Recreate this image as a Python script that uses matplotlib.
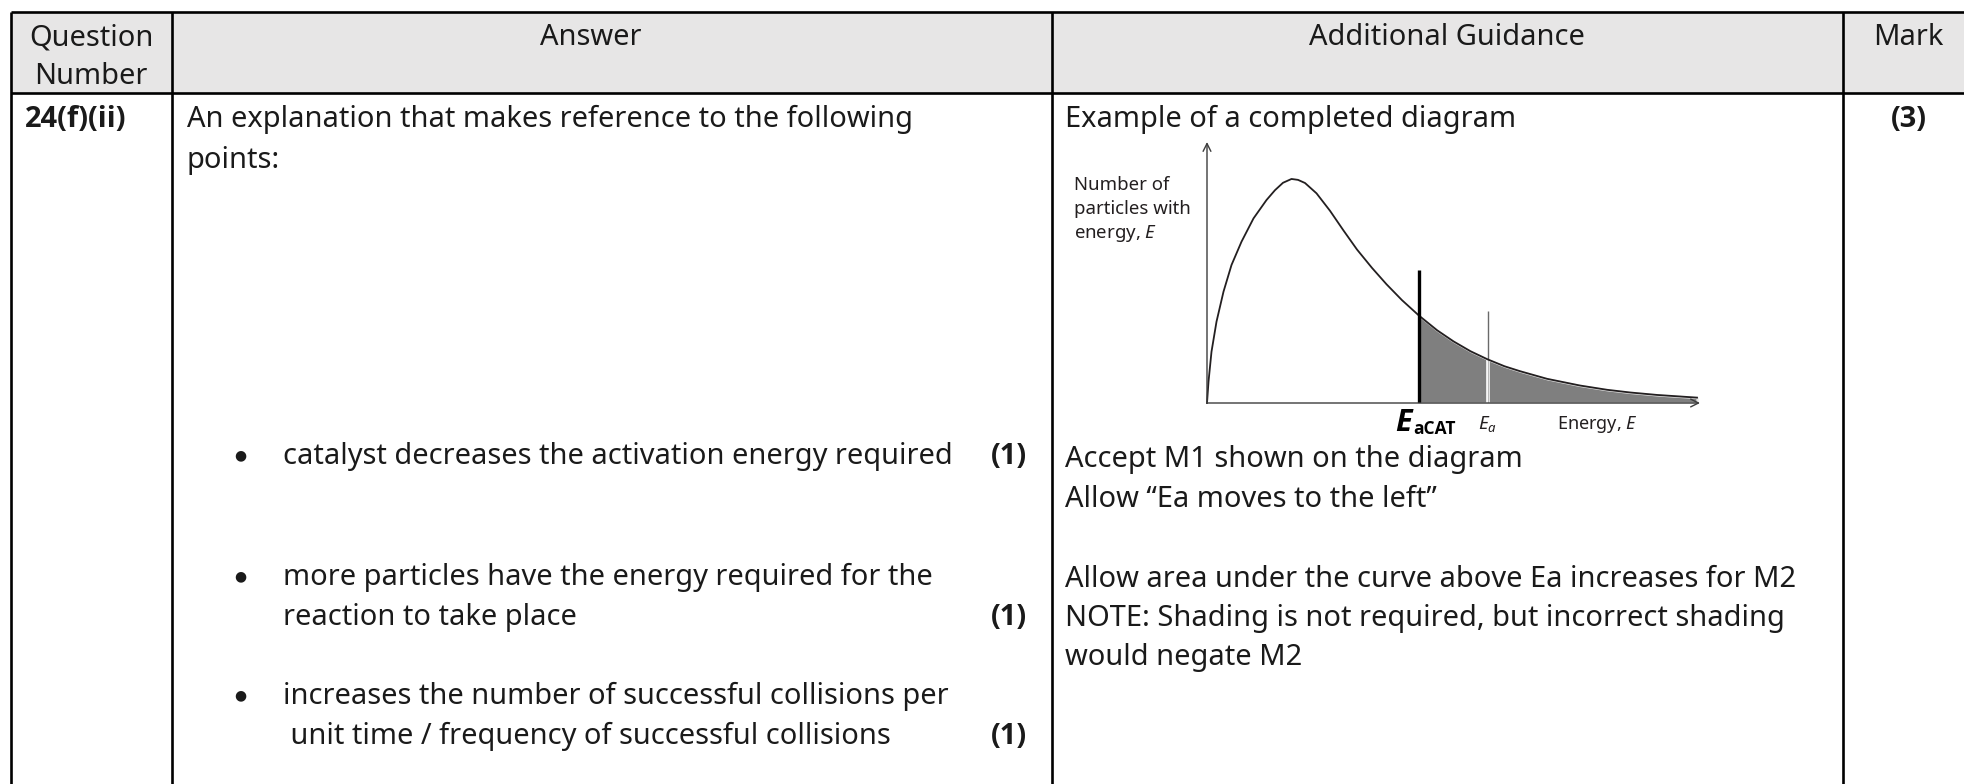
import matplotlib
matplotlib.use("Agg")
import matplotlib.pyplot as plt
from matplotlib.patches import Rectangle

plt.rcParams['font.family'] = ['Noto Sans', 'DejaVu Sans']
plt.rcParams['mathtext.fontset'] = 'custom'
plt.rcParams['mathtext.rm'] = 'Noto Sans'
plt.rcParams['mathtext.it'] = 'Noto Sans:italic'
plt.rcParams['mathtext.bf'] = 'Open Sans:bold'
plt.rcParams['mathtext.bfit'] = 'Open Sans:bold:italic'

# table text
headers = ["Question", "Number", "Answer", "Additional Guidance", "Mark"]
question_number = "24(f)(ii)"
answer_intro = ["An explanation that makes reference to the following", "points:"]
answer_points = [
    ["catalyst decreases the activation energy required"],
    ["more particles have the energy required for the", "reaction to take place"],
    ["increases the number of successful collisions per", " unit time / frequency of successful collisions"],
]
point_marks = ["(1)", "(1)", "(1)"]
guidance_title = "Example of a completed diagram"
guidance_m1 = ["Accept M1 shown on the diagram", "Allow \u201cEa moves to the left\u201d"]
guidance_m2 = ["Allow area under the curve above Ea increases for M2",
               "NOTE: Shading is not required, but incorrect shading",
               "would negate M2"]
total_mark = "(3)"

# Maxwell-Boltzmann curve (energy, relative number of particles)
energy = [0.0, 0.03, 0.09, 0.19, 0.33, 0.49, 0.69, 0.93, 1.19, 1.36, 1.52, 1.69,
          1.82, 1.96, 2.19, 2.46, 2.73, 3.0, 3.3, 3.59, 3.9, 4.24, 4.6, 4.93,
          5.27, 5.61, 5.95, 6.26, 6.8, 7.46, 8.0, 8.46, 9.0, 9.6, 9.8]
particles = [0.0, 9.5, 22.9, 36.3, 49.7, 61.6, 72.0, 82.4, 90.6, 95.0, 98.3, 100.0,
             99.6, 98.2, 93.6, 85.8, 77.0, 68.5, 60.3, 53.0, 45.9, 39.0, 32.5, 27.5,
             23.1, 19.5, 16.4, 14.2, 10.8, 7.8, 5.9, 4.7, 3.6, 2.7, 2.4]
ea_cat = 4.24
ea = 5.61
ea_cat_top = 59.4
ea_top = 41.1

W, H = 1964, 784
fig = plt.figure(figsize=(W / 100, H / 100), dpi=100)
bg = fig.add_axes([0, 0, 1, 1])
bg.set_xlim(0, W)
bg.set_ylim(H, 0)
bg.axis('off')

fs = 20.9
ink = '#1a1a1a'
bold = dict(family=['Open Sans', 'DejaVu Sans'], fontweight='bold')

# table frame
left, top, head_bot = 11, 12, 93
cols = [left, 172, 1052, 1843]
bg.add_patch(Rectangle((left, top), W - left, head_bot - top, fc='#e7e6e6', ec='none'))
bg.hlines([top, head_bot], left, W, color='black', lw=1.9)
bg.vlines(cols, top, H, color='black', lw=1.9)

# header
bg.text(91, 45, headers[0], ha='center', va='baseline', fontsize=fs, color=ink)
bg.text(91, 84, headers[1], ha='center', va='baseline', fontsize=fs, color=ink)
bg.text(591, 45, headers[2], ha='center', va='baseline', fontsize=fs, color=ink)
bg.text(1447, 45, headers[3], ha='center', va='baseline', fontsize=fs, color=ink)
bg.text(1908, 45, headers[4], ha='center', va='baseline', fontsize=fs, color=ink)

# question number and mark
bg.text(25, 127, question_number, ha='left', va='baseline', fontsize=fs,
        color=ink, **bold)
bg.text(1909, 127, total_mark, ha='center', va='baseline', fontsize=fs,
        color=ink, **bold)

# answer column
for i, line in enumerate(answer_intro):
    bg.text(187, 127 + 41 * i, line, ha='left', va='baseline', fontsize=fs, color=ink)

point_baselines = [464, 585, 704]
for base, lines, mark in zip(point_baselines, answer_points, point_marks):
    bg.text(240, base - 8, "\u25cf", ha='center', va='center', fontsize=10, color=ink)
    for j, line in enumerate(lines):
        bg.text(283, base + 40 * j, line, ha='left', va='baseline', fontsize=fs, color=ink)
    bg.text(1027, base + 40 * (len(lines) - 1), mark, ha='right', va='baseline',
            fontsize=fs, color=ink, **bold)

# guidance column
bg.text(1065, 127, guidance_title, ha='left', va='baseline', fontsize=fs, color=ink)
for i, line in enumerate(guidance_m1):
    bg.text(1065, 467 + 40 * i, line, ha='left', va='baseline', fontsize=fs, color=ink)
for i, line in enumerate(guidance_m2):
    bg.text(1065, 587 + 39 * i, line, ha='left', va='baseline', fontsize=fs, color=ink)

# diagram
dcol = '#231f20'
x0, y0, x1, y1 = 1207, 403, 1700, 142
dax = fig.add_axes([x0 / W, (H - y0) / H, (x1 - x0) / W, (y0 - y1) / H])
dax.set_xlim(0, 9.86)
dax.set_ylim(0, 116.5)
dax.axis('off')
dax.patch.set_alpha(0)

tail = [(e, n) for e, n in zip(energy, particles) if e >= ea_cat]
dax.fill_between([t[0] for t in tail], [t[1] for t in tail], 0,
                 facecolor='#7f7f7f', edgecolor='#e8e8e8', lw=1.6, zorder=1)
ea_height = particles[energy.index(ea)]
dax.vlines(ea, ea_height, ea_top, color='#6a6a6a', lw=1.0, zorder=2)
dax.vlines(ea, 0, ea_height, color='white', lw=2.6, zorder=2)
dax.vlines(ea, 0, ea_height, color='#b8b8b8', lw=0.9, zorder=2)
dax.plot(energy, particles, color=dcol, lw=1.3, zorder=3, clip_on=False,
         solid_joinstyle='round')
dax.vlines(ea_cat, 0, ea_cat_top, color='black', lw=2.4, zorder=4)

arrow = dict(arrowstyle='->', color='#3c3c3c', lw=1.0, shrinkA=0, shrinkB=0,
             mutation_scale=14)
dax.annotate('', xy=(1, 0), xytext=(0, 0), xycoords='axes fraction',
             textcoords='axes fraction', arrowprops=arrow, zorder=5)
dax.annotate('', xy=(0, 1), xytext=(0, 0), xycoords='axes fraction',
             textcoords='axes fraction', arrowprops=arrow, zorder=5)

# E_aCAT label: large bold italic E with smaller bold "aCAT"
dax.annotate(r'$\mathbfit{E}$', xy=(ea_cat, 0), xytext=(-3.0, -20.5),
             textcoords='offset points', ha='right', va='baseline',
             fontsize=22, color='black', annotation_clip=False)
dax.annotate('aCAT', xy=(ea_cat, 0), xytext=(-4.0, -22.5),
             textcoords='offset points', ha='left', va='baseline',
             fontsize=12.5, color='black', annotation_clip=False, **bold)
dax.annotate(r'$E_a$', xy=(ea, 0), xytext=(0, -19), textcoords='offset points',
             ha='center', va='baseline', fontsize=13.5, color=dcol,
             annotation_clip=False)
dax.text(0.71, -0.098, r'Energy, $E$', transform=dax.transAxes, ha='left',
         va='baseline', fontsize=13, color=dcol)

ylabel = ["Number of", "particles with", r"energy, $E$"]
for i, line in enumerate(ylabel):
    bg.text(1074, 190 + 24 * i, line, ha='left', va='baseline', fontsize=13.4, color=dcol)

fig.savefig('out.png', dpi=100)
